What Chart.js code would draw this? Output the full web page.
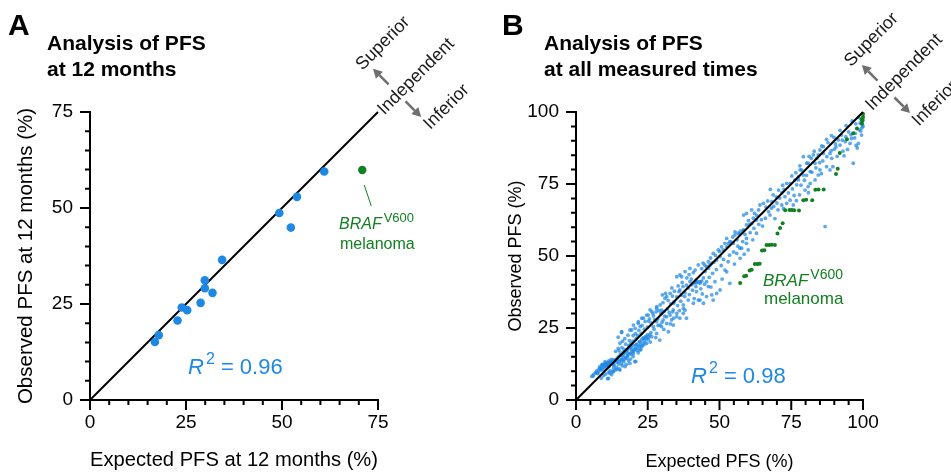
<!DOCTYPE html>
<html>
<head>
<meta charset="utf-8">
<script src="https://cdn.jsdelivr.net/npm/chart.js@4.4.1/dist/chart.umd.min.js"></script>
<style>
html,body{margin:0;padding:0;background:#fff;}
#wrap{position:relative;width:951px;height:472px;}
canvas{position:absolute;left:0;top:0;}
</style>
</head>
<body>
<div id="wrap">
<canvas id="cA" width="951" height="472"></canvas>
<canvas id="cB" width="951" height="472"></canvas>
</div>
<script>
// ---------- DATA ----------
const ticksA = [0, 25, 50, 75];
const ticksB = [0, 25, 50, 75, 100];
const diagA = [[0, 0], [75, 75]];
const diagB = [[0, 0], [100, 100]];

// Panel A: PFS at 12 months (expected, observed)
const blueA = [[61.0,59.5],[53.9,52.9],[49.3,48.7],[52.3,44.9],[34.4,36.5],[29.9,31.2],[29.9,29.1],
  [31.9,27.9],[28.8,25.3],[23.9,24.1],[25.3,23.4],[22.8,20.7],[17.9,16.9],[16.9,15.1]];
const greenA = [[70.9,59.9]];

// Panel B: PFS at all measured times
const greenB = [[57.2,40.6],[58.6,43.0],[59.3,43.1],[60.5,45.0],[61.2,45.2],[62.3,47.2],[63.2,47.2],[64.0,47.3],
  [64.8,51.9],[65.6,52.0],[66.4,53.8],[67.3,53.8],[68.2,53.9],[69.3,53.8],[70.2,57.8],[71.1,59.7],[72.0,61.4],
  [72.9,65.9],[74.4,66.0],[75.2,66.0],[76.0,65.9],[77.7,65.8],[79.2,69.4],[80.2,69.5],[82.3,69.4],[83.4,73.0],
  [84.5,73.1],[86.3,73.1],[90.6,78.5],[91.2,80.3],[91.9,85.8],[94.4,90.5],[96.6,92.6],[97.9,94.3],[99.6,96.0],
  [99.8,97.0],[100,98.3],[100,99.3],[99.5,97.5]];
const blueB = [
  [5.5,8.2],[6.1,8.9],[6.0,8.3],[6.8,9.5],[7.2,10.1],[7.2,9.3],[7.6,9.2],[8.0,10.8],[8.3,11.6],[8.4,11.0],
  [8.7,10.4],[9.1,11.9],[9.4,12.4],[9.5,11.6],[9.8,11.2],[10.2,12.8],[10.5,12.1],[10.7,12.7],[10.9,13.0],
  [11.2,12.4],[11.5,11.7],[11.8,12.9],[11.8,12.7],[12.2,12.5],[12.6,13.1],[13.0,12.2],[13.0,13.9],
  [8.8,7.6],[9.6,8.5],[10.4,9.0],[11.0,7.4],[11.3,7.5],[11.4,9.6],[11.8,9.3],[11.9,10.2],[12.4,8.8],
  [12.8,9.9],[13.0,9.8],[13.1,11.1],[14.2,10.6],[15.3,10.4],[17.1,11.6],[18.8,12.7],
  [13.3,12.0],[13.6,10.4],[14.0,13.2],[14.2,11.3],[14.5,14.6],[14.7,13.3],[14.8,12.5],[15.1,10.8],[15.3,13.7],
  [15.6,15.4],[15.9,13.9],[15.9,14.1],[16.1,11.9],[16.4,15.8],[16.5,15.0],[16.6,13.3],[16.9,16.3],[17.2,14.6],
  [17.5,12.4],[17.7,14.5],[17.7,17.2],[17.7,17.4],[18.0,15.5],[18.2,16.2],[18.3,13.6],[18.5,17.9],[18.8,16.2],
  [18.8,18.5],[19.0,14.2],[19.3,18.4],[19.4,17.4],[19.6,16.9],[19.9,15.1],[20.0,16.2],[20.2,19.0],[20.5,17.6],
  [20.6,17.9],[20.8,13.4],[20.5,13.3],[21.1,19.4],[21.1,19.1],[21.4,18.1],[21.7,16.4],[22.0,20.2],[22.3,19.1],
  [22.3,17.4],[22.3,20.3],[22.6,17.5],[22.9,21.0],[22.9,18.5],[23.2,19.7],[23.5,21.6],[23.5,21.4],[23.9,20.6],
  [24.3,22.1],[24.6,21.3],[24.6,22.0],[25.0,22.7],[25.4,21.9],[25.8,22.6],
  [13.8,16.9],[14.7,17.9],[14.7,21.8],[15.9,23.7],[15.3,19.7],[15.9,23.4],[16.2,20.4],[17.0,21.3],[18.1,22.5],
  [18.8,24.3],[19.4,24.3],[20.0,26.0],[20.6,24.9],[21.7,26.6],[21.7,27.2],[22.4,25.5],[22.9,28.4],[23.5,28.4],
  [24.6,29.5],[25.2,29.5],[25.3,27.4],[25.8,31.3],[26.4,30.7],[27.0,29.2],[28.1,32.4],[28.1,31.8],[29.3,33.0],
  [29.8,31.2],[29.8,30.1],[31.0,35.3],[31.6,35.9],[32.8,37.0],[33.6,36.1],
  [26.2,26.8],[27.4,27.9],[28.5,28.2],[29.6,30.0],[30.7,30.8],[31.9,31.6],[33.0,33.4],[34.2,34.1],[35.1,35.8],
  [35.9,37.6],[36.2,38.2],[37.3,39.4],[38.5,39.9],[39.7,41.1],[40.9,40.5],[41.5,40.8],[42.0,40.7],[42.6,41.0],
  [43.2,41.1],[43.8,41.3],[44.4,42.4],[45.5,46.3],[46.2,45.8],[47.3,47.5],[48.1,47.9],[49.0,48.6],[50.2,49.8],
  [36.8,36.4],[38.0,37.2],[39.2,38.9],[40.3,40.0],[45.0,44.6],[46.7,46.9],
  [24.6,19.7],[26.4,22.0],[26.9,25.5],[28.1,23.1],[28.1,27.2],[29.2,20.8],[29.3,26.0],[29.8,25.5],[30.4,27.8],
  [31.6,26.6],[31.6,28.9],[32.2,23.7],[32.8,29.5],[33.3,27.8],[33.9,26.0],[33.9,31.3],[34.0,33.6],[34.0,28.4],
  [35.1,30.1],[35.1,28.9],[36.2,28.4],[37.4,31.8],[37.4,33.0],[37.4,30.1],[38.5,28.4],[39.1,34.7],[40.9,33.6],
  [42.0,37.6],[42.6,34.7],[43.2,34.7],[44.4,33.6],[45.5,35.9],[46.1,39.4],[47.3,36.5],[47.8,34.7],[48.4,41.1],
  [49.0,37.0],[50.2,38.2],
  [30.1,36.5],[31.2,37.0],[35.1,42.8],[36.2,43.4],[36.8,42.8],[38.0,44.6],[39.7,45.7],[40.9,44.2],[41.5,45.1],
  [41.9,41.7],[42.6,46.9],[43.2,40.5],[44.3,47.5],[45.5,41.1],[46.1,48.0],[47.8,50.9],[49.6,52.1],[50.7,53.2],
  [51.9,54.4],[53.6,55.0],[55.4,57.3],[56.5,57.9],[58.3,59.0],[59.4,60.8],
  [51.9,45.1],[52.5,44.5],[53.6,40.5],[53.0,48.0],[56.0,50.9],[57.2,49.2],[57.7,52.7],[59.4,54.4],[60.0,52.1],
  [52.5,53.2],[54.8,54.4],[57.1,52.7],[58.4,59.0],[59.4,56.1],[61.2,61.3],[62.9,57.9],[62.9,62.5],[51.3,52.1],
  [52.5,56.1],[55.4,58.4],[56.9,57.6],[58.4,64.2],[59.4,64.8],[61.2,66.0],[61.8,63.1],[64.1,67.7],[65.3,68.3],
  [63.0,64.1],[60.5,61.0],[54.0,54.9],[56.1,55.6],
  [67.6,64.2],[68.1,66.6],[68.7,71.2],[67.7,73.1],[70.4,66.0],[71.7,67.7],[71.7,72.0],[73.4,68.3],[73.4,75.2],
  [74.6,69.4],[74.6,75.2],[75.7,67.7],[76.3,76.4],[77.5,77.5],[77.9,71.2],[78.6,79.9],[79.2,84.5],[79.8,72.9],
  [80.9,74.1],[80.9,82.2],[81.6,75.2],[82.0,83.9],[83.3,76.4],[84.4,78.1],[84.4,85.1],[85.0,79.9],[86.2,85.6],
  [86.8,60.2],[87.3,81.0],[76.9,74.7],[77.5,76.4],[78.1,79.9],[79.2,78.1],[80.4,82.2],[81.6,79.3],[82.7,85.1],
  [83.3,82.2],[83.9,83.9],[85.0,86.8],[86.2,88.0],[87.3,90.5],[88.5,85.6],[88.5,79.9],[89.1,83.9],[89.5,81.0],
  [69.8,70.5],[72.5,73.1],[66.2,67.0],
  [91.4,90.3],[92.0,88.5],[93.8,89.7],[95.5,89.1],[94.6,87.0],[96.6,82.2],[97.3,92.6],[98.4,89.1],[99.5,92.0],
  [99.0,96.1],[98.0,87.5],[93.0,86.4],[90.4,88.9],[91.0,84.6],[95.0,93.1],[96.0,90.8],[99.6,94.5],[99.8,95.5],
  [99.5,96.8],[100,95.0],[99.2,93.4],[100,97.4],[97.5,95.9],[92.5,92.0],[90.0,87.1],[89.9,91.2],
  [7.9,9.9],[8.6,10.9],[9.2,10.6],[9.9,12.2],[10.6,11.5],[11.1,11.8],[11.6,12.2],[12.0,13.4],[12.9,12.7],
  [13.5,13.8],[14.1,14.2],[14.9,15.1],[15.5,15.9],[16.3,16.5],[16.8,17.6],[17.4,16.8],[18.4,18.9],[19.1,19.6],
  [19.8,20.4],[20.9,21.3],[21.5,22.4],[22.7,23.1],[23.8,24.6],[24.9,25.3],[11.4,13.6],[12.3,14.1],[10.1,13.3],
  [9.0,12.3],[15.0,17.1],[16.0,18.2],[17.3,19.4],[18.6,20.6],[19.9,22.4],[20.7,23.0],[21.9,24.2],[23.0,25.9],
  [24.1,27.3],[25.6,28.2],[26.8,30.1],[27.9,30.6],[28.8,31.0],[30.3,33.8],[32.1,34.6],[34.3,37.8],[33.4,38.9],
  [35.6,39.6],[37.0,40.8],[38.6,42.4],[39.4,43.5],[40.2,42.0],[43.8,45.6],[44.9,46.8],[46.9,49.3],[48.6,50.2],
  [50.0,51.6],[53.1,54.3],[54.6,56.6],[57.3,58.6],[60.1,62.3],[62.2,64.8],[63.6,66.0],[66.8,69.1],[68.2,68.9],
  [70.6,72.9],[72.0,74.6],[75.2,77.8],[76.6,78.9],[78.0,81.3],[81.2,84.6],[83.0,86.4],[85.6,88.2],[87.8,89.4],
  [89.0,91.8],[92.0,93.6],[94.1,95.3],[96.2,96.9],[98.5,98.1],
  [15.8,12.6],[16.7,14.0],[17.9,15.2],[19.2,15.9],[20.1,17.0],[21.3,17.2],[22.1,18.6],[23.3,18.9],[24.0,19.5],
  [25.2,21.0],[26.1,23.4],[27.2,24.6],[28.6,25.9],[30.0,27.0],[30.9,29.1],[32.5,30.4],[33.7,30.6],[35.4,32.8],
  [36.5,34.3],[37.9,35.9],[39.5,36.6],[40.6,38.1],[41.8,39.4],[43.5,38.6],[44.8,40.2],[46.4,42.6],[47.6,44.0],
  [48.9,45.3],[50.6,46.7],[51.4,48.8],[53.5,50.3],[54.9,51.4],[56.4,53.4],[58.1,55.0],[58.9,57.5],[60.7,58.1],
  [62.0,59.6],[63.7,61.0],[64.6,62.6],[66.0,63.1],[67.1,65.4],[68.9,67.2],[70.0,68.4],[71.0,70.1],[72.8,70.6],
  [74.0,71.9],[75.4,73.3],[76.0,71.0],[78.4,74.6],[79.6,76.3],[80.3,78.0],[82.2,79.1],[83.6,80.6],[84.9,82.4],
  [86.0,83.0],[87.4,84.5],[88.9,86.6],[90.6,87.9],[92.8,90.2],[94.0,91.4],[95.8,92.1],[97.1,91.0],[98.7,93.8],
  [97.6,88.4],[93.4,84.8],[85.5,78.6],[81.0,72.0],[76.8,69.2],[72.3,66.4],[69.3,63.0],[65.0,60.4],[61.6,55.6],
  [58.6,50.6],[55.2,47.2],[50.9,42.0],[47.0,39.2],[44.0,36.8],[41.2,35.2],[38.0,31.2],[36.0,31.0],[32.9,26.4],
  [30.6,24.5],[27.8,21.7],[25.9,20.1]
];

// ---------- STYLE ----------
const FONT = '"Liberation Sans", Arial, Helvetica, sans-serif';
const BLUE = '#1E88E5';
const GREEN = '#128020';
const GREY = '#6f6f6f';
Chart.defaults.font.family = FONT;
Chart.defaults.color = '#000';
const toPts = arr => arr.map(([x, y]) => ({x, y}));

function drawAxes(chart, max) {
  const {ctx, scales: {x, y}} = chart;
  const x0 = x.getPixelForValue(0), y0 = y.getPixelForValue(0);
  const x1 = x.getPixelForValue(max), y1 = y.getPixelForValue(max);
  ctx.save();
  ctx.strokeStyle = '#000';
  ctx.lineWidth = 2;
  ctx.beginPath();
  ctx.moveTo(x0, y1 - 1); ctx.lineTo(x0, y0); ctx.lineTo(x1 + 1, y0);
  for (let v = 0; v <= max; v += 5) {
    const L = (v % 25 === 0) ? 10 : 5;
    const py = y.getPixelForValue(v), px = x.getPixelForValue(v);
    ctx.moveTo(x0, py); ctx.lineTo(x0 - L, py);
    ctx.moveTo(px, y0); ctx.lineTo(px, y0 + L);
  }
  ctx.stroke();
  ctx.restore();
}

function arrow(ctx, a, b) {
  const dx = b[0] - a[0], dy = b[1] - a[1];
  const len = Math.hypot(dx, dy), ux = dx / len, uy = dy / len;
  const hl = 9, hw = 5;
  ctx.beginPath();
  ctx.moveTo(a[0], a[1]);
  ctx.lineTo(b[0] - ux * hl, b[1] - uy * hl);
  ctx.stroke();
  ctx.beginPath();
  ctx.moveTo(b[0], b[1]);
  ctx.lineTo(b[0] - ux * hl - uy * hw, b[1] - uy * hl + ux * hw);
  ctx.lineTo(b[0] - ux * hl + uy * hw, b[1] - uy * hl - ux * hw);
  ctx.closePath();
  ctx.fill();
}

function drawDiag(chart, max, along, arrowAlong, indOff) {
  const {ctx, scales: {x, y}} = chart;
  const ax = x.getPixelForValue(max), ay = y.getPixelForValue(max);
  const s = Math.SQRT1_2;
  const pt = (a, o) => [ax + s * a + s * o, ay - s * a + s * o];
  ctx.save();
  ctx.font = '18px ' + FONT;
  ctx.fillStyle = '#1a1a1a';
  ctx.textAlign = 'center';
  ctx.textBaseline = 'middle';
  [['Superior', -45], ['Independent', indOff], ['Inferior', 45]].forEach(([t, o]) => {
    const [cx, cy] = pt(along, o);
    ctx.save(); ctx.translate(cx, cy); ctx.rotate(-Math.PI / 4); ctx.fillText(t, 0, 0); ctx.restore();
  });
  ctx.strokeStyle = GREY; ctx.fillStyle = GREY; ctx.lineWidth = 2.5;
  arrow(ctx, pt(arrowAlong, -12), pt(arrowAlong, -34));
  arrow(ctx, pt(arrowAlong, 12), pt(arrowAlong, 34));
  ctx.restore();
}

function drawR2(ctx, x, y, val) {
  ctx.save();
  ctx.fillStyle = BLUE;
  ctx.textBaseline = 'alphabetic';
  ctx.textAlign = 'left';
  ctx.font = 'italic 22px ' + FONT;
  ctx.fillText('R', x, y);
  let cx = x + ctx.measureText('R').width + 2;
  ctx.font = '16px ' + FONT;
  ctx.fillText('2', cx, y - 10);
  cx += ctx.measureText('2').width;
  ctx.font = '22px ' + FONT;
  ctx.fillText(' = ' + val, cx, y);
  ctx.restore();
}

function drawBraf(ctx, x, y1, y2, fs, sfs) {
  ctx.save();
  ctx.fillStyle = GREEN;
  ctx.textAlign = 'left';
  ctx.textBaseline = 'alphabetic';
  ctx.font = 'italic ' + fs + 'px ' + FONT;
  ctx.fillText('BRAF', x, y1);
  const w = ctx.measureText('BRAF').width;
  ctx.font = sfs + 'px ' + FONT;
  ctx.fillText('V600', x + w + 2, y1 - 7);
  ctx.font = fs + 'px ' + FONT;
  ctx.fillText('melanoma', x + 1, y2);
  ctx.restore();
}

function drawHeader(ctx, letter, lx, tx, l1, l2) {
  ctx.save();
  ctx.fillStyle = '#000';
  ctx.textAlign = 'left';
  ctx.textBaseline = 'alphabetic';
  ctx.font = 'bold 30px ' + FONT;
  ctx.fillText(letter, lx, 35);
  ctx.font = 'bold 21px ' + FONT;
  ctx.fillText(l1, tx, 50);
  ctx.fillText(l2, tx, 76);
  ctx.restore();
}

function makeOptions(max, ticks, pad, yWidth, yTitle, xTitle, yTitlePad, titleSize) {
  return {
    responsive: false,
    animation: false,
    events: [],
    devicePixelRatio: 1,
    layout: {padding: pad},
    plugins: {legend: {display: false}, tooltip: {enabled: false}},
    scales: {
      x: {
        type: 'linear', position: 'bottom', min: 0, max: max,
        grid: {display: false, drawTicks: false}, border: {display: false},
        afterBuildTicks: s => { s.ticks = ticks.map(v => ({value: v})); },
        afterFit: s => { s.height = 72; },
        ticks: {padding: 11, maxRotation: 0, autoSkip: false, font: {size: 19}, color: '#000'},
        title: {display: true, text: xTitle, font: {size: titleSize, lineHeight: 1.1}, padding: {top: 0, bottom: 0}, color: '#000'}
      },
      y: {
        type: 'linear', position: 'left', min: 0, max: max,
        grid: {display: false, drawTicks: false}, border: {display: false},
        afterBuildTicks: s => { s.ticks = ticks.map(v => ({value: v})); },
        afterFit: s => { s.width = yWidth; },
        ticks: {padding: 17, autoSkip: false, font: {size: 19}, color: '#000'},
        title: {display: true, text: yTitle, font: {size: titleSize, lineHeight: 1.2}, padding: {top: yTitlePad, bottom: 0}, color: '#000'}
      }
    }
  };
}

// ---------- PANEL A ----------
new Chart(document.getElementById('cA'), {
  type: 'scatter',
  data: {
    datasets: [
      {data: toPts(diagA), showLine: true, borderColor: '#000', borderWidth: 2, pointRadius: 0, order: 2, clip: false},
      {data: toPts(blueA), backgroundColor: BLUE, borderWidth: 0, pointRadius: 4.3, order: 0, clip: false},
      {data: toPts(greenA), backgroundColor: GREEN, borderWidth: 0, pointRadius: 4.2, order: 0, clip: false}
    ]
  },
  options: makeOptions(75, ticksA, {left: 0, top: 112, right: 573, bottom: 0}, 90,
    'Observed PFS at 12 months (%)', 'Expected PFS at 12 months (%)', 14, 20.5),
  plugins: [{
    id: 'decorA',
    afterDatasetsDraw(chart) {
      const {ctx, scales: {x, y}} = chart;
      drawAxes(chart, 75);
      drawDiag(chart, 75, 52, 27, 2);
      drawR2(ctx, 188, 374, '0.96');
      drawBraf(ctx, 339, 229, 249, 16, 13);
      const gx = x.getPixelForValue(greenA[0][0]), gy = y.getPixelForValue(greenA[0][1]);
      ctx.save(); ctx.strokeStyle = GREEN; ctx.lineWidth = 1;
      ctx.beginPath(); ctx.moveTo(gx + 2, gy + 15); ctx.lineTo(gx + 9, gy + 36); ctx.stroke(); ctx.restore();
      drawHeader(ctx, 'A', 8, 47, 'Analysis of PFS', 'at 12 months');
    }
  }]
});

// ---------- PANEL B ----------
new Chart(document.getElementById('cB'), {
  type: 'scatter',
  data: {
    datasets: [
      {data: toPts(diagB), showLine: true, borderColor: '#000', borderWidth: 2, pointRadius: 0, order: 0, clip: false},
      {data: toPts(blueB), backgroundColor: 'rgba(30,136,229,0.72)', borderWidth: 0, pointRadius: 1.9, order: 2, clip: false},
      {data: toPts(greenB), backgroundColor: GREEN, borderWidth: 0, pointRadius: 2, order: 1, clip: false}
    ]
  },
  options: makeOptions(100, ticksB, {left: 480, top: 112, right: 88, bottom: 0}, 96,
    'Observed PFS (%)', 'Expected PFS (%)', 25, 18),
  plugins: [{
    id: 'decorB',
    afterDatasetsDraw(chart) {
      const {ctx} = chart;
      drawAxes(chart, 100);
      drawDiag(chart, 100, 57, 32.5, 1);
      drawR2(ctx, 691, 383, '0.98');
      drawBraf(ctx, 763, 286, 304, 17, 14);
      drawHeader(ctx, 'B', 502, 544, 'Analysis of PFS', 'at all measured times');
    }
  }]
});
</script>
</body>
</html>
